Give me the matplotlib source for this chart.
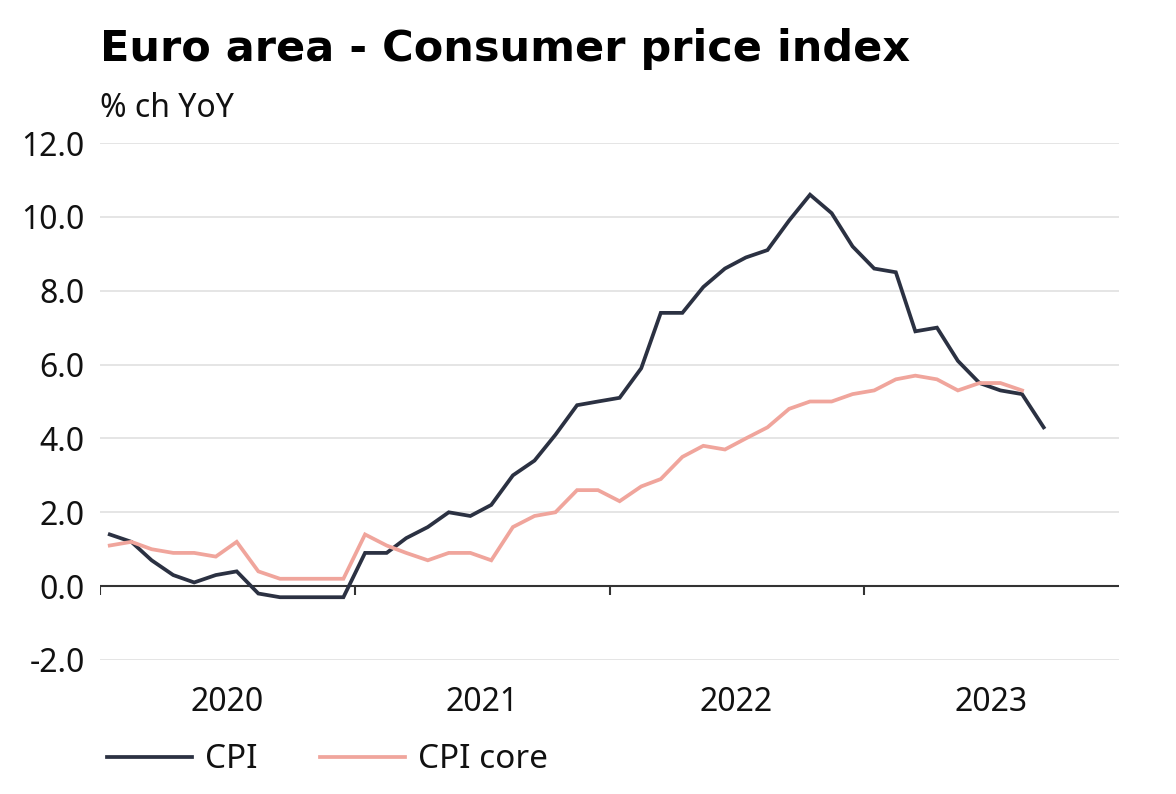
import matplotlib
matplotlib.use('Agg')
import pandas as pd
from matplotlib import pyplot as plt
from matplotlib.ticker import FormatStrFormatter

# Euro area HICP, % ch YoY, monthly from Jan 2020
cpi = [1.4, 1.2, 0.7, 0.3, 0.1, 0.3, 0.4, -0.2, -0.3, -0.3, -0.3, -0.3,
       0.9, 0.9, 1.3, 1.6, 2.0, 1.9, 2.2, 3.0, 3.4, 4.1, 4.9, 5.0,
       5.1, 5.9, 7.4, 7.4, 8.1, 8.6, 8.9, 9.1, 9.9, 10.6, 10.1, 9.2,
       8.6, 8.5, 6.9, 7.0, 6.1, 5.5, 5.3, 5.2, 4.3]
cpi_core = [1.1, 1.2, 1.0, 0.9, 0.9, 0.8, 1.2, 0.4, 0.2, 0.2, 0.2, 0.2,
            1.4, 1.1, 0.9, 0.7, 0.9, 0.9, 0.7, 1.6, 1.9, 2.0, 2.6, 2.6,
            2.3, 2.7, 2.9, 3.5, 3.8, 3.7, 4.0, 4.3, 4.8, 5.0, 5.0, 5.2,
            5.3, 5.6, 5.7, 5.6, 5.3, 5.5, 5.5, 5.3]
years = ['2020', '2021', '2022', '2023']
series_labels = ['CPI', 'CPI core']

# points sit mid-month
months = pd.date_range('2020-01-01', periods=len(cpi), freq='MS') + pd.Timedelta(days=14)

plt.rcParams['font.family'] = ['Noto Sans', 'DejaVu Sans']
plt.rcParams['axes.unicode_minus'] = False

W, H = 1176, 794
fig = plt.figure(figsize=(W / 100, H / 100), dpi=100)
ax = fig.add_axes([100 / W, 1 - 660 / H, 1019 / W, 517 / H])

dark = '#2b3142'
pink = '#f0a59c'
ax.plot(months, cpi, color=dark, lw=2.7, solid_joinstyle='miter', label=series_labels[0], zorder=3)
ax.plot(months[:len(cpi_core)], cpi_core, color=pink, lw=2.7, solid_joinstyle='miter',
        label=series_labels[1], zorder=3)

ax.set_ylim(-2, 12)
ax.set_yticks(range(-2, 13, 2))
ax.yaxis.set_major_formatter(FormatStrFormatter('%.1f'))
ax.grid(axis='y', color='#dedede', lw=1.1)
ax.set_axisbelow(True)

year_starts = pd.to_datetime(years)
ax.set_xlim(year_starts[0], pd.Timestamp(str(int(years[-1]) + 1)))
ax.set_xticks(pd.to_datetime([y + '-07-01' for y in years]))
ax.set_xticklabels(years)

# zero line with year separators
ax.axhline(0, color='#333333', lw=1.5, zorder=2)
ax.vlines(year_starts, -0.25, 0, color='#333333', lw=1.5, zorder=2)

for s in ax.spines.values():
  s.set_visible(False)
ax.tick_params(axis='both', length=0, labelsize=23, labelcolor='#111111')
ax.tick_params(axis='x', pad=19)
ax.tick_params(axis='y', pad=11)

fig.text(100 / W, 1 - 61 / H, 'Euro area - Consumer price index', fontsize=31,
         fontweight='bold', family='DejaVu Sans', va='baseline', color='#000000')
fig.text(100 / W, 1 - 117 / H, '% ch YoY', fontsize=23, va='baseline', color='#111111')

fig.legend(loc='center left', bbox_to_anchor=(107 / W, 1 - 760 / H), ncol=2, frameon=False,
           fontsize=24, handlelength=2.55, handletextpad=0.4, columnspacing=1.85,
           borderpad=0, borderaxespad=0, labelcolor='#111111')

plt.savefig('out.png', dpi=100)
